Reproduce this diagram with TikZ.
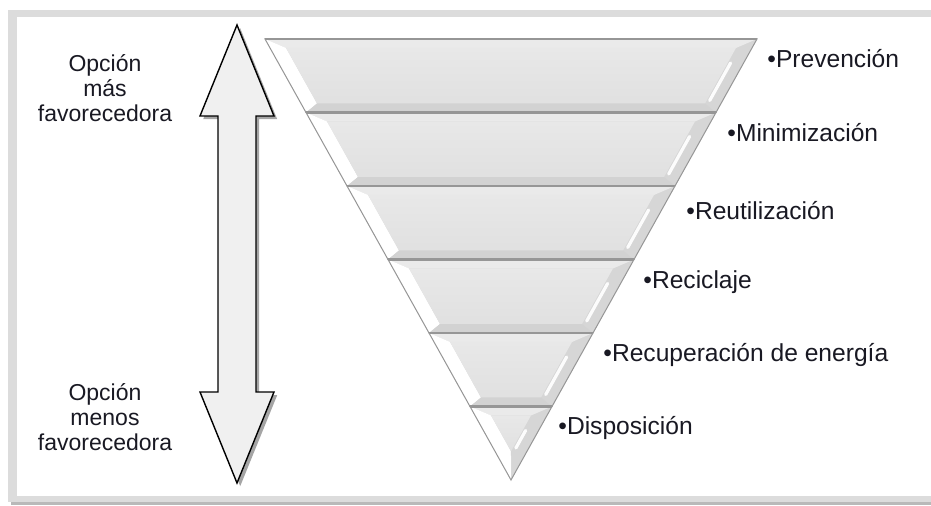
\documentclass[tikz,border=0pt]{standalone}
\usepackage{fontspec}
\setmainfont{Liberation Sans}
\usepackage{tikz}
\usetikzlibrary{positioning,calc,shadows}

\definecolor{framegray}{RGB}{220,220,220}
\definecolor{frameshade}{RGB}{185,185,185}
\definecolor{arrowfill}{RGB}{240,240,240}
\definecolor{bandtop}{RGB}{234,234,234}
\definecolor{bandright}{RGB}{214,214,214}
\definecolor{bandbottom}{RGB}{210,210,210}
\definecolor{bandedge}{RGB}{150,150,150}
\definecolor{labeltext}{RGB}{25,25,35}

\tikzset{
  levellabel/.style={anchor=west, inner sep=0pt, text=labeltext,
    font=\fontsize{12.3}{14}\selectfont},
  sidelabel/.style={align=center, inner sep=0pt, text=labeltext,
    font=\fontsize{11.5}{12.6}\selectfont},
  bigarrow/.style={draw=black, line width=0.7pt, fill=arrowfill,
    drop shadow={shadow xshift=1.6pt, shadow yshift=-1.6pt, opacity=0.7}}
}

\begin{document}
\begin{tikzpicture}[x=0.5pt, y=-0.5pt]
  \useasboundingbox (0,0) rectangle (931,506);

  % frame
  \fill[frameshade] (11,13) rectangle (931,505);
  \fill[framegray] (8,10) rectangle (931,502);
  \fill[white] (17,17) rectangle (931,496);

  % double arrow
  \draw[bigarrow] (237,25) -- (274,116) -- (256,116) -- (256,392) -- (274,392)
    -- (237,483) -- (200,392) -- (218,392) -- (218,116) -- (200,116) -- cycle;

  \node[sidelabel] (best) at (105,88) {Opción\\más\\favorecedora};
  \node[sidelabel] (worst) at (105,417) {Opción\\menos\\favorecedora};

  % inverted pyramid
  \foreach \i/\lx/\ly/\lbl in {0/767/59/Prevención, 1/727/133/Minimización,
      2/686/211/Reutilización, 3/643/282/Reciclaje,
      4/603/355/Recuperación de energía, 5/558/428/Disposición} {
    \pgfmathsetmacro\ytop{39+73.5*\i}
    \pgfmathsetmacro\ybot{\ytop+73.5}
    \pgfmathsetmacro\wtop{(480-\ytop)*0.5578}
    \pgfmathsetmacro\wbot{(480-\ybot)*0.5578}
    \pgfmathsetmacro\ytopi{\ytop+9}
    \pgfmathsetmacro\yboti{min(\ybot-9,451.3)}
    \pgfmathsetmacro\wtopi{(480-\ytopi)*0.5578-16}
    \pgfmathsetmacro\wboti{max((480-\yboti)*0.5578-16,0)}
    \pgfmathsetmacro\ysa{\ytop+24}
    \pgfmathsetmacro\ysb{min(\ybot-12,448)}
    \pgfmathsetmacro\xsa{511+(480-\ysa)*0.5578-13}
    \pgfmathsetmacro\xsb{511+(480-\ysb)*0.5578-13}
    % base (right facet)
    \fill[bandright] ({511-\wtop},\ytop) -- ({511+\wtop},\ytop)
      -- ({511+\wbot},\ybot) -- ({511-\wbot},\ybot) -- cycle;
    % top facet
    \fill[bandtop] ({511-\wtop},\ytop) -- ({511+\wtop},\ytop)
      -- ({511+\wtopi},\ytopi) -- ({511-\wtopi},\ytopi) -- cycle;
    % left facet
    \fill[white] ({511-\wtop},\ytop) -- ({511-\wtopi},\ytopi)
      -- ({511-\wboti},\yboti) -- ({511-\wbot},\ybot) -- cycle;
    % bottom facet
    \fill[bandbottom] ({511-\wbot},\ybot) -- ({511+\wbot},\ybot)
      -- ({511+\wboti},\yboti) -- ({511-\wboti},\yboti) -- cycle;
    % face
    \shade[top color=black!9, bottom color=black!12]
      ({511-\wtopi},\ytopi) -- ({511+\wtopi},\ytopi)
      -- ({511+\wboti},\yboti) -- ({511-\wboti},\yboti) -- cycle;
    % highlight on the right facet
    \draw[white, line width=1.6pt, line cap=round, opacity=0.95]
      (\xsa,\ysa) -- (\xsb,\ysb);
    % outline
    \draw[bandedge, line width=0.5pt] ({511-\wtop},\ytop) -- ({511+\wtop},\ytop)
      -- ({511+\wbot},\ybot) -- ({511-\wbot},\ybot) -- cycle;
    \draw[bandedge, line width=1.1pt] ({511-\wtop},\ytop) -- ({511+\wtop},\ytop);
    % level label
    \node[levellabel] (level\i) at (\lx,\ly) {•\lbl};
  }
\end{tikzpicture}
\end{document}
